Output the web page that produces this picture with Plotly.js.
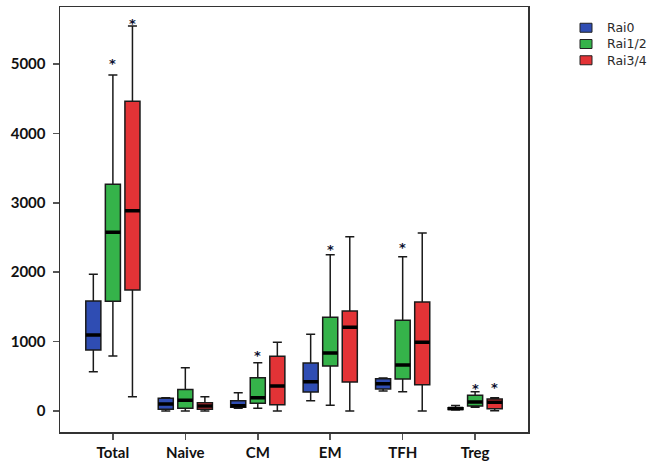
<!DOCTYPE html>
<html>
<head>
<meta charset="utf-8">
<script src="https://cdn.plot.ly/plotly-3.0.1.min.js"></script>
<style>html,body{margin:0;padding:0;background:#fff}#chart{width:655px;height:464px}</style>
</head>
<body>
<div id="chart"></div>
<script>
var categories = ['Total', 'Naive', 'CM', 'EM', 'TFH', 'Treg'];
var seriesNames = ['Rai0', 'Rai1/2', 'Rai3/4'];

var rai0_lo  = [566, 0, 39, 149, 288, 15];
var rai0_q1  = [879, 24, 55, 274, 317, 22];
var rai0_med = [1095, 101, 75, 422, 394, 35];
var rai0_q3  = [1585, 183, 149, 692, 466, 48];
var rai0_hi  = [1970, 192, 264, 1105, 475, 80];

var rai12_lo  = [792, 0, 39, 82, 278, 53];
var rai12_q1  = [1580, 39, 111, 648, 461, 72];
var rai12_med = [2575, 155, 192, 836, 663, 130];
var rai12_q3  = [3266, 308, 480, 1350, 1307, 226];
var rai12_hi  = [4841, 622, 696, 2252, 2223, 278];

var rai34_lo  = [206, 0, 0, 0, 0, 5];
var rai34_q1  = [1743, 24, 91, 418, 379, 33];
var rai34_med = [2886, 72, 360, 1206, 990, 125];
var rai34_q3  = [4462, 120, 788, 1441, 1571, 173];
var rai34_hi  = [5547, 206, 990, 2512, 2565, 192];

// significance stars (null = none)
var rai0_star  = [null, null, null, null, null, null];
var rai12_star = [5067, null, 855, 2388, 2415, 375];
var rai34_star = [5643, null, null, null, null, 389];

var yTickVals = [0, 1000, 2000, 3000, 4000, 5000];

var colors = ['#2f4db3', '#35b34a', '#e33336'];
var series = [
  {lo: rai0_lo, q1: rai0_q1, med: rai0_med, q3: rai0_q3, hi: rai0_hi, star: rai0_star},
  {lo: rai12_lo, q1: rai12_q1, med: rai12_med, q3: rai12_q3, hi: rai12_hi, star: rai12_star},
  {lo: rai34_lo, q1: rai34_q1, med: rai34_med, q3: rai34_q3, hi: rai34_hi, star: rai34_star}
];

var traces = [];
series.forEach(function (s, i) {
  traces.push({
    type: 'box', name: seriesNames[i], x: categories,
    q1: s.q1, median: s.med, q3: s.q3, lowerfence: s.lo, upperfence: s.hi,
    fillcolor: colors[i], line: {color: '#1a1a1a', width: 1.5},
    whiskerwidth: 0.6, offsetgroup: 'g' + i, alignmentgroup: 'all',
    boxpoints: false, hoverinfo: 'skip', showlegend: false
  });
});
series.forEach(function (s, i) {
  traces.push({
    type: 'box', name: seriesNames[i] + ' median', x: categories,
    q1: s.med, median: s.med, q3: s.med, lowerfence: s.med, upperfence: s.med,
    fillcolor: 'rgba(0,0,0,0)', line: {color: '#000', width: 3.5},
    whiskerwidth: 0, offsetgroup: 'g' + i, alignmentgroup: 'all',
    boxpoints: false, showlegend: false, hoverinfo: 'skip'
  });
});

var W = 655, H = 464, ML = 60, MR = 127, MT = 7, MB = 32;
var plotW = W - ML - MR, plotH = H - MT - MB;
function px2paperX(px) { return (px - ML) / plotW; }
function px2paperY(py) { return (H - MB - py) / plotH; }

var slotPx = 19.5;
var annotations = [];
series.forEach(function (s, i) {
  s.star.forEach(function (v, j) {
    if (v === null) return;
    annotations.push({
      x: categories[j], y: v, xref: 'x', yref: 'y', text: '<b>*</b>', showarrow: false,
      xshift: (i - 1) * slotPx, yshift: -4,
      font: {family: 'DejaVu Sans', size: 13, color: '#0b1030'}
    });
  });
});

// custom legend (compact spacing as in reference)
var shapes = [];
var legendFont = 12.5, legendStep = legendFont * 1.3;
var legendMidY = 44;
seriesNames.forEach(function (nm, i) {
  var cy = legendMidY + (i - 1) * legendStep;
  shapes.push({
    type: 'rect', xref: 'paper', yref: 'paper',
    x0: px2paperX(580), x1: px2paperX(592),
    y0: px2paperY(cy + 4.5), y1: px2paperY(cy - 4.5),
    fillcolor: colors[i], line: {color: '#222', width: 1}
  });
});
annotations.push({
  xref: 'paper', yref: 'paper', x: px2paperX(606), y: px2paperY(legendMidY),
  xanchor: 'left', yanchor: 'middle', align: 'left', borderpad: 0,
  text: seriesNames.join('<br>'), showarrow: false,
  font: {family: 'DejaVu Sans', size: legendFont, color: '#2a2a2a'}
});

var layout = {
  width: W, height: H,
  margin: {l: ML, r: MR, t: MT, b: MB},
  paper_bgcolor: '#fff', plot_bgcolor: '#fff',
  boxmode: 'group', boxgap: 0.19, boxgroupgap: 0.23,
  font: {family: 'Lato', color: '#111'},
  xaxis: {
    type: 'category', range: [-0.73, 5.73],
    showline: true, mirror: true, linecolor: '#333', linewidth: 1.5,
    ticks: 'outside', ticklen: 6, tickwidth: 1.5, tickcolor: '#555',
    showgrid: false, zeroline: false,
    tickfont: {family: 'Lato', size: 15, color: '#111', weight: 'bold'}
  },
  yaxis: {
    range: [-303, 5821], tickvals: yTickVals,
    showline: true, mirror: true, linecolor: '#333', linewidth: 1.5,
    ticks: 'outside', ticklen: 6, tickwidth: 1.5, tickcolor: '#555',
    showgrid: false, zeroline: false, ticklabelstandoff: 4,
    tickfont: {family: 'Lato', size: 15, color: '#111', weight: 'bold'}
  },
  annotations: annotations,
  shapes: shapes,
  showlegend: false
};

Plotly.newPlot('chart', traces, layout, {displayModeBar: false, staticPlot: true});
</script>
</body>
</html>
